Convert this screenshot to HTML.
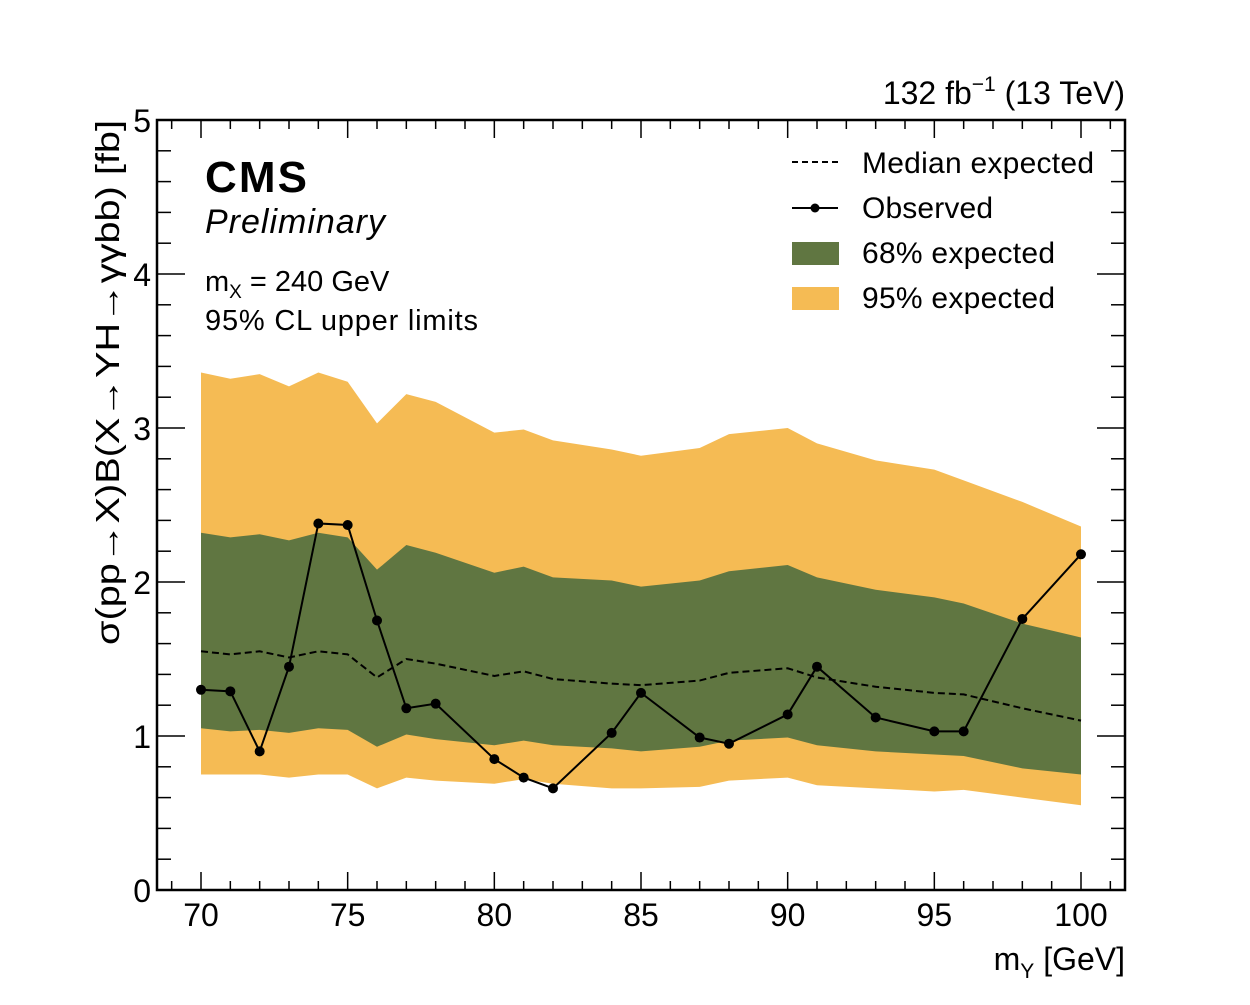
<!DOCTYPE html>
<html><head><meta charset="utf-8"><style>
body{margin:0;background:#fff;}
svg text{font-family:"Liberation Sans",sans-serif;fill:#000;}
</style></head><body>
<svg id="chart" width="1250" height="1000">
<g id="bands"></g><g id="lines"></g><g id="axes"></g>
<text x="1125" y="104" font-size="32" text-anchor="end">132 fb<tspan dy="-13" font-size="21">−1</tspan><tspan dy="13"> (13 TeV)</tspan></text>
<text x="205" y="192" font-size="44" font-weight="bold" textLength="102">CMS</text>
<text x="205" y="233" font-size="34" font-style="italic" textLength="180">Preliminary</text>
<text x="205" y="291" font-size="29">m<tspan dy="7" font-size="19">X</tspan><tspan dy="-7"> = 240 GeV</tspan></text>
<text x="205" y="330" font-size="29" textLength="273">95% CL upper limits</text>
<g>
<line x1="792" y1="162" x2="838" y2="162" stroke="#000" stroke-width="2" stroke-dasharray="6,4"/>
<text x="862" y="173" font-size="30" textLength="232">Median expected</text>
<line x1="792" y1="208" x2="838" y2="208" stroke="#000" stroke-width="2"/>
<circle cx="815" cy="208" r="4.5" fill="#000"/>
<text x="862" y="218" font-size="30" textLength="131">Observed</text>
<rect x="792" y="242" width="47" height="23" fill="#607641"/>
<text x="862" y="263" font-size="30" textLength="193">68% expected</text>
<rect x="792" y="287" width="47" height="23" fill="#f5bb54"/>
<text x="862" y="308" font-size="30" textLength="193">95% expected</text>
</g>
<text x="1125" y="970" font-size="32" text-anchor="end">m<tspan dy="8" font-size="21">Y</tspan><tspan dy="-8"> [GeV]</tspan></text>
<text transform="translate(119,120) rotate(-90)" font-size="33" text-anchor="end" textLength="525" lengthAdjust="spacingAndGlyphs">σ(pp→X)B(X→YH→γγbb) [fb]</text>
</svg>
<script>
const masses=[70,71,72,73,74,75,76,77,78,80,81,82,84,85,87,88,90,91,93,95,96,98,100];
const observed=[1.30,1.29,0.90,1.45,2.38,2.37,1.75,1.18,1.21,0.85,0.73,0.66,1.02,1.28,0.99,0.95,1.14,1.45,1.12,1.03,1.03,1.76,2.18];
const median=[1.55,1.53,1.55,1.51,1.55,1.53,1.38,1.50,1.47,1.39,1.42,1.37,1.34,1.33,1.36,1.41,1.44,1.38,1.32,1.28,1.27,1.18,1.10];
const up95=[3.36,3.32,3.35,3.27,3.36,3.30,3.03,3.22,3.17,2.97,2.99,2.92,2.86,2.82,2.87,2.96,3.00,2.90,2.79,2.73,2.66,2.52,2.36];
const up68=[2.32,2.29,2.31,2.27,2.32,2.29,2.08,2.24,2.19,2.06,2.10,2.03,2.01,1.97,2.01,2.07,2.11,2.03,1.95,1.90,1.86,1.73,1.64];
const lo68=[1.05,1.03,1.04,1.02,1.05,1.04,0.93,1.01,0.98,0.94,0.97,0.94,0.92,0.90,0.93,0.97,0.99,0.94,0.90,0.88,0.87,0.79,0.75];
const lo95=[0.75,0.75,0.75,0.73,0.75,0.75,0.66,0.73,0.71,0.69,0.72,0.69,0.66,0.66,0.67,0.71,0.73,0.68,0.66,0.64,0.65,0.60,0.55];
const xTicks=[70,75,80,85,90,95,100];
const yTicks=[0,1,2,3,4,5];
const L=157,R=1125,T=120,B=890;
const X=v=>201+(v-70)*(1081-201)/30;
const Y=v=>B-v*(B-T)/5;
const NS='http://www.w3.org/2000/svg';
function mk(tag,parent,attrs){const e=document.createElementNS(NS,tag);for(const k in attrs)e.setAttribute(k,attrs[k]);document.getElementById(parent).appendChild(e);return e;}
function band(up,lo){let p=masses.map((m,i)=>X(m)+','+Y(up[i]));for(let i=masses.length-1;i>=0;i--)p.push(X(masses[i])+','+Y(lo[i]));return p.join(' ');}
let b95=mk('polygon','bands',{points:band(up95,lo95),fill:'#f5bb54'});


let b68=mk('polygon','bands',{points:band(up68,lo68),fill:'#607641'});


let med=mk('polyline','lines',{points:masses.map((m,i)=>X(m)+','+Y(median[i])).join(' '),fill:'none',stroke:'#000','stroke-width':2,'stroke-dasharray':'7,4'});


let obs=mk('polyline','lines',{points:masses.map((m,i)=>X(m)+','+Y(observed[i])).join(' '),fill:'none',stroke:'#000','stroke-width':2});


masses.forEach((m,i)=>{const c=mk('circle','lines',{cx:X(m),cy:Y(observed[i]),r:5,fill:'#000'});

});
let fr=mk('rect','axes',{x:L,y:T,width:R-L,height:B-T,fill:'none',stroke:'#000','stroke-width':2.5});


for(let v=69;v<=101;v++){const maj=xTicks.includes(v);const len=maj?18:9;const x=X(v);
mk('line','axes',{x1:x,y1:B,x2:x,y2:B-len,stroke:'#000','stroke-width':1.5});
mk('line','axes',{x1:x,y1:T,x2:x,y2:T+len,stroke:'#000','stroke-width':1.5});}
xTicks.forEach(v=>{const t=mk('text','axes',{x:X(v),y:926,'font-size':32,'text-anchor':'middle'});t.textContent=v;

});
for(let k=0;k<=25;k++){const v=k*0.2;const maj=k%5===0;const len=maj?28:14;const y=Y(v);
mk('line','axes',{x1:L,y1:y,x2:L+len,y2:y,stroke:'#000','stroke-width':1.5});
mk('line','axes',{x1:R,y1:y,x2:R-len,y2:y,stroke:'#000','stroke-width':1.5});}
yTicks.forEach(v=>{const t=mk('text','axes',{x:151,y:Y(v)+12,'font-size':32,'text-anchor':'end'});t.textContent=v;

});
</script>
</body></html>
